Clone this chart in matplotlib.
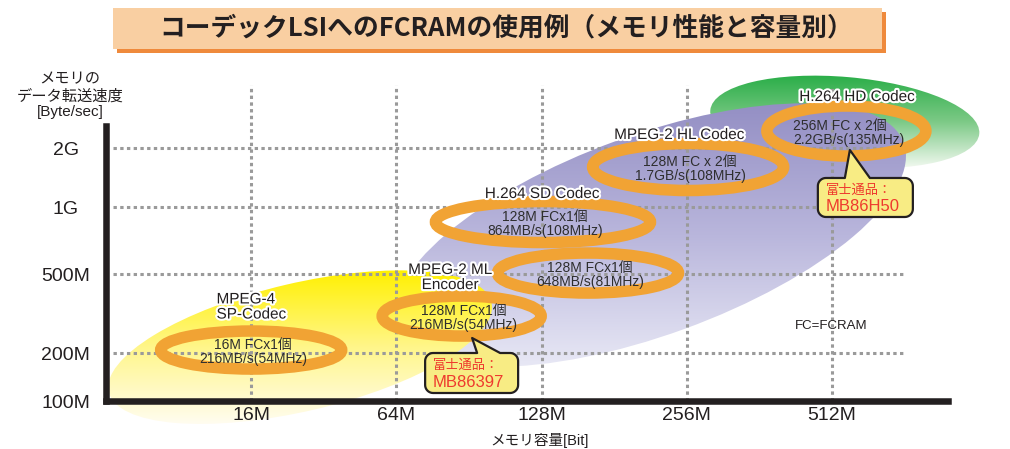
import matplotlib
matplotlib.use("Agg")
import matplotlib.pyplot as plt
import matplotlib.patheffects as pe
from matplotlib.colors import LinearSegmentedColormap
from matplotlib.patches import Ellipse, Polygon, Rectangle
import numpy as np

plt.rcParams["font.family"] = ["Liberation Sans", "Noto Sans CJK JP"]

# --- data -------------------------------------------------------------------
cap_labels = ["16M", "64M", "128M", "256M", "512M"]          # memory capacity (categorical)
bw_ticks = [100, 200, 500, 1000, 2000]                        # transfer rate, MB/s
bw_labels = ["100M", "200M", "500M", "1G", "2G"]

# FCRAM usage rings (capacity position, transfer-rate position)
ring_x = [0.0, 1.45, 2.32, 2.01, 3.01, 4.10]
ring_bw = [207, 307, 505, 856, 1600, 2442]
ring_text = [
    "16M FCx1個\n216MB/s(54MHz)",
    "128M FCx1個\n216MB/s(54MHz)",
    "128M FCx1個\n648MB/s(81MHz)",
    "128M FCx1個\n864MB/s(108MHz)",
    "128M FC x 2個\n1.7GB/s(108MHz)",
    "256M FC x 2個\n2.2GB/s(135MHz)",
]

# codec names
codec_names = ["MPEG-4\nSP-Codec", "MPEG-2 ML\nEncoder", "H.264 SD Codec",
               "MPEG-2 HL Codec", "H.264 HD Codec"]
codec_x = [0.0, 1.37, 2.003, 2.947, 4.172]
codec_bw = [341, 480, 1165, 2330, 3640]

# codec family regions (green HD, purple SD/HL, yellow low end)
region_x = [4.089, 2.747, 0.337]
region_bw = [2715, 748, 214]

# Fujitsu parts callouts
part_names = ["MB86397", "MB86H50"]
part_x = [1.522, 4.124]
part_bw = [238, 1954]

# --- layout / style ---------------------------------------------------------
W, H = 1010, 449
bw_tick_pos = [0, 48, 127, 194, 253]   # uneven gridline spacing of the original
ring_w = [181, 159, 181, 215, 191, 159]
ring_h = [38, 40, 40, 41, 47, 50]
ring_align = ["center"] * 5 + ["left"]
region_w = [270, 540, 393]
region_h = [90, 200, 128]
region_ang = [-5, 20, 13.2]
region_cols = [
    ["#2aae48", "#7cc986", "#f2f9f0"],
    ["#948fc4", "#b9b6dc", "#e8e8f5"],
    ["#fff000", "#fff68a", "#fffdf0"],
]
# callout box (dx0, dx1, dy0, dy1) from tip, pointer base (bx0, bx1)
callout_box = [(-47, 46, 15, 55, 5, 28), (-32, 63, 28, 67, -5, 20)]

ink = "#231f20"
ring_col = "#f1a334"
grid_col = "#9a9a9a"

log_ticks = np.log10(bw_ticks)
slope_lo = (bw_tick_pos[1] - bw_tick_pos[0]) / (log_ticks[1] - log_ticks[0])
slope_hi = (bw_tick_pos[-1] - bw_tick_pos[-2]) / (log_ticks[-1] - log_ticks[-2])


def fwd(v):
    lv = np.log10(np.clip(np.asarray(v, dtype=float), 1e-9, None))
    out = np.interp(lv, log_ticks, bw_tick_pos)
    out = np.where(lv > log_ticks[-1], bw_tick_pos[-1] + (lv - log_ticks[-1]) * slope_hi, out)
    out = np.where(lv < log_ticks[0], bw_tick_pos[0] + (lv - log_ticks[0]) * slope_lo, out)
    return out


def inv(p):
    p = np.asarray(p, dtype=float)
    lv = np.interp(p, bw_tick_pos, log_ticks)
    lv = np.where(p > bw_tick_pos[-1], log_ticks[-1] + (p - bw_tick_pos[-1]) / slope_hi, lv)
    lv = np.where(p < bw_tick_pos[0], log_ticks[0] + (p - bw_tick_pos[0]) / slope_lo, lv)
    return 10 ** lv


fig = plt.figure(figsize=(W / 100, H / 100), dpi=100)
bg = fig.add_axes([0, 0, 1, 1], zorder=0)
ax = fig.add_axes([106 / W, 48 / H, 842 / W, 275 / H], zorder=1)
top = fig.add_axes([0, 0, 1, 1], zorder=2)
for a in (bg, top):
    a.set_xlim(0, W)
    a.set_ylim(0, H)
    a.set_autoscale_on(False)
    a.axis("off")

ax.patch.set_alpha(0)
ax.set_xlim(-1, 4.8)
ax.set_yscale("function", functions=(fwd, inv))
ax.set_ylim(100, 2590)
for s in ("top", "right"):
    ax.spines[s].set_visible(False)
for s in ("left", "bottom"):
    ax.spines[s].set_linewidth(4.7)
    ax.spines[s].set_color(ink)
    ax.spines[s].set_capstyle("projecting")

ax.set_xticks(range(len(cap_labels)), cap_labels)
ax.set_yticks(bw_ticks, bw_labels)
ax.minorticks_off()
ax.tick_params(length=0, labelsize=14, colors=ink)
ax.tick_params(axis="y", pad=29)
ax.tick_params(axis="x", pad=4)
for lbl in ax.get_yticklabels():
    lbl.set_horizontalalignment("center")

dots = (0, (1.1, 1.1))
for v in bw_ticks[1:]:
    ax.plot([-0.95, 4.49], [v, v], color=grid_col, lw=2.2, ls=dots, zorder=1)
for i in range(len(cap_labels)):
    ax.plot([i, i], [100, 4200], color=grid_col, lw=2.2, ls=dots, zorder=1, clip_on=False)


def to_px(x, bw):
    return ax.transData.transform((x, bw))


# gradient regions
grad = np.linspace(0, 1, 256)[:, None]
for x, bw, w, h, ang, cols in zip(region_x, region_bw, region_w, region_h, region_ang, region_cols):
    cx, cy = to_px(x, bw)
    ell = Ellipse((cx, cy), w, h, angle=ang, facecolor="none", edgecolor="none")
    bg.add_patch(ell)
    t = np.radians(ang)
    hx = np.hypot(w / 2 * np.cos(t), h / 2 * np.sin(t))
    hy = np.hypot(w / 2 * np.sin(t), h / 2 * np.cos(t))
    cmap = LinearSegmentedColormap.from_list("g", cols)
    im = bg.imshow(grad, cmap=cmap, extent=(cx - hx, cx + hx, cy - hy, cy + hy),
                   origin="upper", aspect="auto", interpolation="bilinear")
    im.set_clip_path(ell)

# rings with FCRAM configuration
for x, bw, w, h, txt, al in zip(ring_x, ring_bw, ring_w, ring_h, ring_text, ring_align):
    cx, cy = to_px(x, bw)
    top.add_patch(Ellipse((cx, cy), w, h, fill=False, edgecolor=ring_col, lw=8.3))
    top.text(cx + 2, cy - 2, txt, ha="center", va="center", fontsize=10, color="#2e2e2e",
             linespacing=1.0, multialignment=al)

halo = [pe.withStroke(linewidth=3, foreground="white")]
for i, (name, x, bw) in enumerate(zip(codec_names, codec_x, codec_bw)):
    cx, cy = to_px(x, bw)
    top.text(cx, cy, name, ha="center", va="center", fontsize=11, color=ink,
             multialignment="left" if i == 0 else "center", linespacing=1.1,
             path_effects=halo)

fx, fy = to_px(3.993, 274)
top.text(fx, fy, "FC=FCRAM", ha="center", va="center", fontsize=9.5, color=ink)


# callouts
def callout_path(tx, ty, dx0, dx1, dy0, dy1, bx0, bx1, r=8):
    left, right = tx + dx0, tx + dx1
    ytop, ybot = ty - dy0, ty - dy1
    pts = [(tx, ty), (tx + bx1, ytop)]
    arcs = [((right - r, ytop - r), 90, 0), ((right - r, ybot + r), 0, -90),
            ((left + r, ybot + r), -90, -180), ((left + r, ytop - r), 180, 90)]
    for (ax0, ay0), a0, a1 in arcs:
        for a in np.radians(np.linspace(a0, a1, 10)):
            pts.append((ax0 + r * np.cos(a), ay0 + r * np.sin(a)))
    pts.append((tx + bx0, ytop))
    return pts, left, ytop


for name, x, bw, geo in zip(part_names, part_x, part_bw, callout_box):
    tx, ty = to_px(x, bw)
    pts, left, ytop = callout_path(tx, ty, *geo)
    top.add_patch(Polygon(pts, closed=True, facecolor="#f8ec84", edgecolor=ink,
                          lw=1.6, joinstyle="round"))
    top.text(left + 8, ytop - 13, "富士通品：", ha="left", va="center", fontsize=9.5,
             color="#ee3a2e")
    top.text(left + 8, ytop - 29, name, ha="left", va="center", fontsize=12,
             color="#ee3a2e")

# axis titles
top.text(70, H - 96, "メモリの\nデータ転送速度\n[Byte/sec]", ha="center", va="center",
         fontsize=11, color=ink, linespacing=1.2)
top.text(540, H - 440, "メモリ容量[Bit]", ha="center", va="center", fontsize=10.5,
         color=ink)

# title banner
top.add_patch(Rectangle((117, H - 53), 769, 41, facecolor="#ef8a3c", edgecolor="none"))
top.add_patch(Rectangle((113, H - 49), 769, 41, facecolor="#f9cfa2", edgecolor="none"))
top.text(506, H - 28, "コーデックLSIへのFCRAMの使用例（メモリ性能と容量別）",
         ha="center", va="center", fontsize=18.5, fontweight="bold", color=ink,
         family=["Noto Sans CJK JP"])

fig.savefig("out.png", dpi=100)
